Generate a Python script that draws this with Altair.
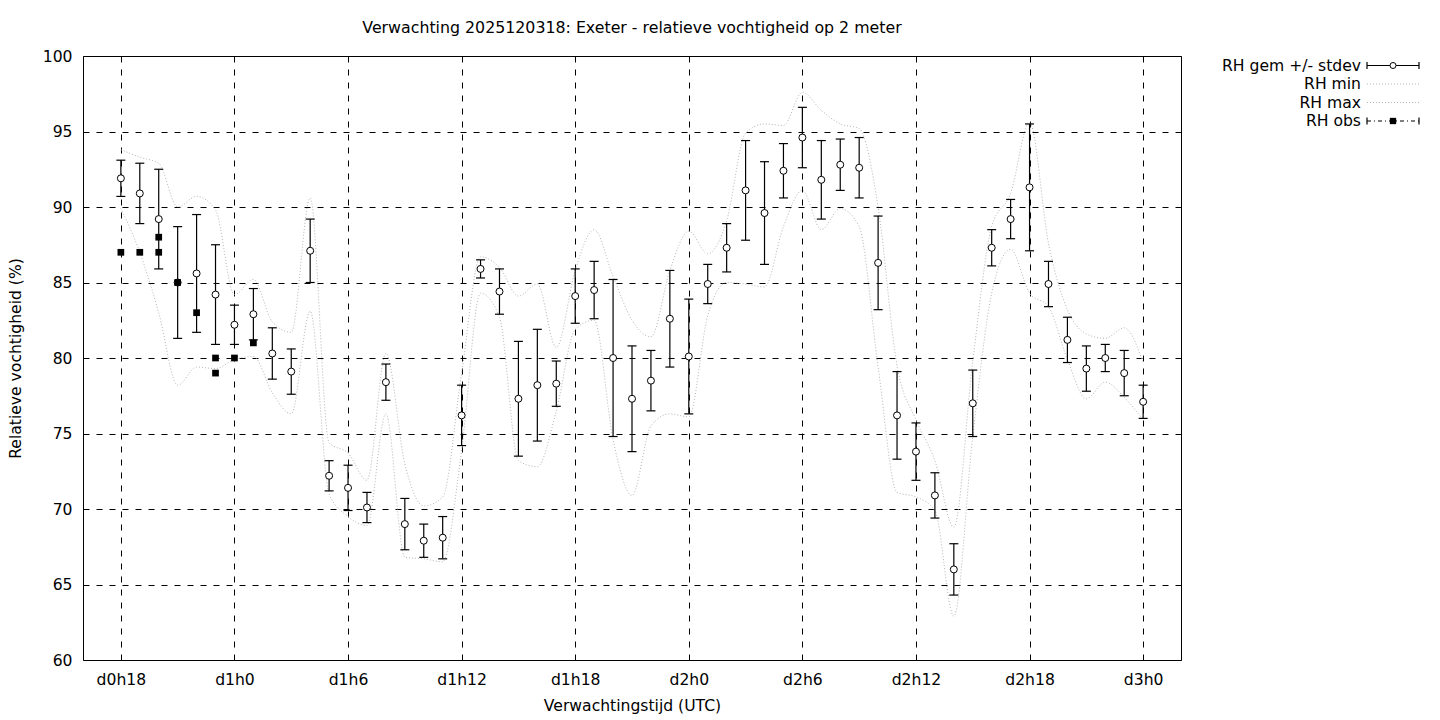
import altair as alt
import pandas as pd

# ---- data ----
hours = list(range(18, 73))
rh_mean = [91.9, 90.9, 89.2, 85.0, 85.6, 84.2, 82.2, 82.9, 80.3, 79.1,
           87.1, 72.2, 71.4, 70.1, 78.4, 69.0, 67.9, 68.1, 76.2, 85.9,
           84.4, 77.3, 78.2, 78.3, 84.1, 84.5, 80.0, 77.3, 78.5, 82.6,
           80.1, 84.9, 87.3, 91.1, 89.6, 92.4, 94.6, 91.8, 92.8, 92.6,
           86.3, 76.2, 73.8, 70.9, 66.0, 77.0, 87.3, 89.2, 91.3, 84.9,
           81.2, 79.3, 80.0, 79.0, 77.1]
rh_sd = [1.2, 2.0, 3.3, 3.7, 3.9, 3.3, 1.3, 1.7, 1.7, 1.5,
         2.1, 1.0, 1.5, 1.0, 1.2, 1.7, 1.1, 1.4, 2.0, 0.6,
         1.5, 3.8, 3.7, 1.5, 1.8, 1.9, 5.2, 3.5, 2.0, 3.2,
         3.8, 1.3, 1.6, 3.3, 3.4, 1.8, 2.0, 2.6, 1.7, 2.0,
         3.1, 2.9, 1.9, 1.5, 1.7, 2.2, 1.2, 1.3, 4.2, 1.5,
         1.5, 1.5, 0.9, 1.5, 1.1]
rh_min = [89.9, 87.0, 83.0, 78.2, 79.4, 79.3, 79.9, 80.1, 77.7, 76.3,
          83.1, 71.0, 69.5, 68.9, 76.3, 66.8, 66.7, 66.5, 73.9, 84.3,
          82.7, 73.2, 72.8, 76.5, 81.9, 82.5, 74.6, 70.9, 75.5, 76.3,
          76.1, 82.8, 85.0, 84.9, 84.7, 88.7, 91.1, 88.5, 89.9, 88.7,
          79.4, 71.1, 70.8, 69.9, 62.9, 74.8, 84.3, 87.2, 84.3, 83.4,
          79.9, 77.3, 78.4, 77.4, 75.9]
rh_max = [93.8, 93.3, 92.9, 90.0, 90.7, 89.8, 84.2, 85.2, 82.4, 81.7,
          90.6, 74.4, 73.7, 71.9, 80.3, 73.0, 70.2, 70.8, 79.0, 86.7,
          86.0, 84.1, 84.9, 80.7, 85.8, 88.5, 85.4, 82.5, 81.4, 85.8,
          88.4, 86.9, 89.1, 94.9, 95.5, 95.4, 97.6, 96.4, 95.5, 95.2,
          90.0, 79.5, 75.9, 73.2, 68.8, 79.8, 88.7, 90.9, 95.6, 87.6,
          83.2, 81.6, 81.3, 82.0, 79.7]
obs_hours = [18, 19, 20, 20, 21, 22, 23, 23, 24, 25]
obs_values = [87, 87, 88, 87, 85, 83, 80, 79, 80, 81]

x_ticks = [18, 24, 30, 36, 42, 48, 54, 60, 66, 72]
y_ticks = [60, 65, 70, 75, 80, 85, 90, 95, 100]
legend_labels = ["RH gem +/- stdev", "RH min", "RH max", "RH obs"]

FONT = "DejaVu Sans"
FS = 15.6
W, H = 1098, 604

df = pd.DataFrame({"h": hours, "mean": rh_mean, "sd": rh_sd,
                   "min": rh_min, "max": rh_max})
df["lo"] = df["mean"] - df["sd"]
df["hi"] = df["mean"] + df["sd"]
obs = pd.DataFrame({"h": obs_hours, "v": obs_values})

xscale = alt.Scale(domain=[16, 74], nice=False, zero=False)
yscale = alt.Scale(domain=[60, 100], nice=False, zero=False)

common_axis = dict(grid=True, gridColor="black", gridDash=[6, 7], gridWidth=1,
                   gridOpacity=1, ticks=False, tickSize=0, domain=False,
                   labelFont=FONT, labelFontSize=FS, labelColor="black",
                   titleFont=FONT, titleFontSize=FS, titleFontWeight="normal",
                   titleColor="black", labelFlush=False)
xaxis = alt.Axis(values=x_ticks, title="Verwachtingstijd (UTC)",
                 labelExpr="'d' + floor(datum.value/24) + 'h' + (datum.value % 24)",
                 labelPadding=12, titlePadding=11, **common_axis)
yaxis = alt.Axis(values=y_ticks, title="Relatieve vochtigheid (%)",
                 labelPadding=11, titlePadding=19, **common_axis)

base = alt.Chart(df)
x = alt.X("h:Q", scale=xscale, axis=xaxis)

lines = []
for col in ["min", "max"]:
    lines.append(base.mark_line(color="#b4b4b4", strokeWidth=1, strokeDash=[1, 2],
                                interpolate="monotone").encode(
        x=x, y=alt.Y(f"{col}:Q", scale=yscale, axis=yaxis)))

bars = base.mark_rule(color="black", strokeWidth=1.2).encode(
    x=x, y=alt.Y("lo:Q", scale=yscale, axis=yaxis), y2="hi:Q")
cap_lo = base.mark_tick(orient="horizontal", color="black", size=9, thickness=1.2,
                        opacity=1).encode(x=x, y=alt.Y("lo:Q", scale=yscale, axis=yaxis))
cap_hi = base.mark_tick(orient="horizontal", color="black", size=9, thickness=1.2,
                        opacity=1).encode(x=x, y=alt.Y("hi:Q", scale=yscale, axis=yaxis))
pts = base.mark_point(shape="circle", filled=True, fill="white", stroke="black",
                      strokeWidth=1, size=49, opacity=1).encode(
    x=x, y=alt.Y("mean:Q", scale=yscale, axis=yaxis))
obs_pts = alt.Chart(obs).mark_point(shape="square", filled=True, color="black",
                                    size=45, opacity=1).encode(
    x=alt.X("h:Q", scale=xscale, axis=xaxis),
    y=alt.Y("v:Q", scale=yscale, axis=yaxis))

# ---- manual legend (labels left of samples, as in the reference) ----
LX_T = 1278          # right edge of labels, relative to plot origin
LX0, LX1 = 1284, 1336
LXM = (LX0 + LX1) / 2
rows = [9.5, 28, 46.5, 65]
one = pd.DataFrame({"a": [0]})
leg = []
for lab, yy in zip(legend_labels, rows):
    leg.append(alt.Chart(pd.DataFrame({"t": [lab]})).mark_text(
        align="right", baseline="middle", font=FONT, fontSize=FS, color="black").encode(
        text="t:N", x=alt.value(LX_T), y=alt.value(yy)))
leg.append(alt.Chart(one).mark_rule(color="black", strokeWidth=1.2).encode(
    x=alt.value(LX0), x2=alt.value(LX1), y=alt.value(rows[0])))
for xx in (LX0, LX1):
    leg.append(alt.Chart(one).mark_rule(color="black", strokeWidth=1.2).encode(
        x=alt.value(xx), y=alt.value(rows[0] - 3.5), y2=alt.value(rows[0] + 3.5)))
leg.append(alt.Chart(one).mark_point(
    shape="circle", filled=True, fill="white", stroke="black", strokeWidth=1, size=36, opacity=1).encode(
    x=alt.value(LXM), y=alt.value(rows[0])))
for yy in rows[1:3]:
    leg.append(alt.Chart(one).mark_rule(
        color="#b4b4b4", strokeWidth=1, strokeDash=[1, 2]).encode(
        x=alt.value(LX0), x2=alt.value(LX1), y=alt.value(yy)))
leg.append(alt.Chart(one).mark_rule(
    color="black", strokeWidth=1.2, strokeDash=[4, 3, 1, 3]).encode(
    x=alt.value(LX0), x2=alt.value(LX1), y=alt.value(rows[3])))
for xx in (LX0, LX1):
    leg.append(alt.Chart(one).mark_rule(color="black", strokeWidth=1.2).encode(
        x=alt.value(xx), y=alt.value(rows[3] - 3.5), y2=alt.value(rows[3] + 3.5)))
leg.append(alt.Chart(one).mark_point(
    shape="square", filled=True, color="black", size=40, opacity=1).encode(
    x=alt.value(LXM), y=alt.value(rows[3])))

chart = alt.layer(*lines, bars, cap_lo, cap_hi, pts, obs_pts, *leg).properties(
    width=W, height=H,
    title=alt.TitleParams("Verwachting 2025120318: Exeter - relatieve vochtigheid op 2 meter",
                          font=FONT, fontSize=15.8, fontWeight="normal", color="black",
                          anchor="middle", offset=12),
    padding={"left": 0, "top": 12, "right": 5, "bottom": 5},
).configure_view(stroke="black", strokeWidth=1)

chart.save("out.html", embed_options={"renderer": "svg", "actions": False})
